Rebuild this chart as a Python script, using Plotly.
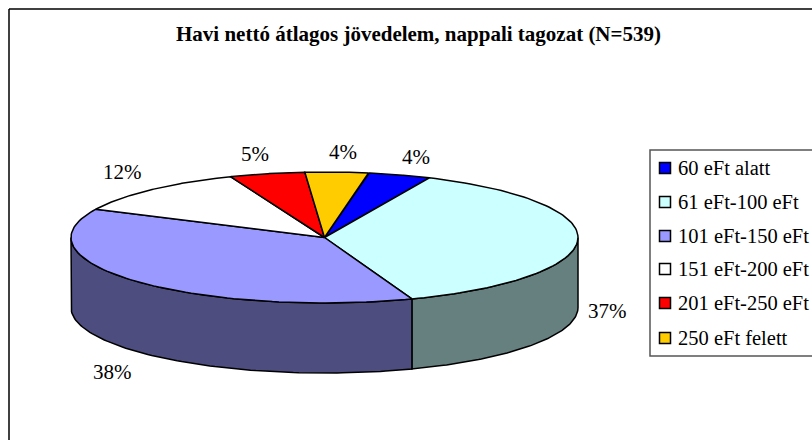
import math
import numpy as np
import plotly.graph_objects as go

# --- data ---
categories = ["60 eFt alatt", "61 eFt-100 eFt", "101 eFt-150 eFt",
              "151 eFt-200 eFt", "201 eFt-250 eFt", "250 eFt felett"]
shares = [4.0, 37.49, 37.6, 11.8, 4.8, 4.0]
title_text = "Havi nettó átlagos jövedelem, nappali tagozat (N=539)"

# --- styling ---
top_colors = ["#0000FF", "#CCFFFF", "#9999FF", "#FFFFFF", "#FF0000", "#FFCC00"]
side_colors = ["#000080", "#668080", "#4D4D80", "#808080", "#800000", "#806600"]
FONT = "Liberation Serif"

# --- layout of the tilted pie (in picture pixels) ---
W, H = 812, 440
CX, CY, RX, RY, DEPTH = 324.5, 237.5, 253.5, 65.5, 70
START_DEG = 10.0
LABEL_XY = [(416, 157), (607, 311), (112, 372), (122, 172), (255, 154), (343, 152)]
LEGEND_X0, LEGEND_Y0, LEGEND_Y1 = 650, 150, 356
LEGEND_ROWS = [168, 202, 236, 269, 303, 338]


def rim(a0, a1, dy=0.0, n=90):
    t = np.radians(np.linspace(a0, a1, n))
    return CX + RX * np.sin(t), CY - RY * np.cos(t) + dy


total = sum(shares)
edges = [START_DEG]
for s in shares:
    edges.append(edges[-1] + s / total * 360)

fig = go.Figure()
LINE = dict(color="black", width=1.5)

# walls (only the front half of the rim, clockwise angles 90..270)
for name, a0, a1, col in zip(categories, edges[:-1], edges[1:], side_colors):
    lo, hi = max(a0, 90), min(a1, 270)
    if lo >= hi:
        continue
    xt, yt = rim(lo, hi)
    xb, yb = rim(hi, lo, DEPTH)
    fig.add_trace(go.Scatter(
        x=np.r_[xt, xb, xt[0]], y=np.r_[yt, yb, yt[0]], mode="lines",
        fill="toself", fillcolor=col, line=LINE, name=name,
        showlegend=False, hoverinfo="skip"))

# top faces
for name, a0, a1, col in zip(categories, edges[:-1], edges[1:], top_colors):
    xa, ya = rim(a0, a1)
    fig.add_trace(go.Scatter(
        x=np.r_[CX, xa, CX], y=np.r_[CY, ya, CY], mode="lines",
        fill="toself", fillcolor=col, line=LINE, name=name,
        showlegend=False, hoverinfo="skip"))

# legend swatches
for name, col, ry in zip(categories, top_colors, LEGEND_ROWS):
    fig.add_trace(go.Scatter(
        x=[665], y=[ry], mode="markers", name=name, showlegend=False,
        marker=dict(symbol="square", size=11, color=col,
                    line=dict(color="black", width=1.5)),
        hoverinfo="skip"))

annotations = [dict(x=418.5, y=34, text=f"<b>{title_text}</b>", showarrow=False,
                    xanchor="center", yanchor="middle",
                    font=dict(family=FONT, size=21, color="black"))]
for s, (lx, ly) in zip(shares, LABEL_XY):
    annotations.append(dict(x=lx, y=ly, text=f"{round(s)}%", showarrow=False,
                            xanchor="center", yanchor="middle",
                            font=dict(family=FONT, size=21, color="black")))
for name, ry in zip(categories, LEGEND_ROWS):
    annotations.append(dict(x=676, y=ry, text=name, showarrow=False,
                            xanchor="left", yanchor="middle",
                            font=dict(family=FONT, size=20.5, color="black")))

shapes = [
    dict(type="line", x0=9, y0=9, x1=W, y1=9, line=dict(color="black", width=1.5)),
    dict(type="line", x0=9, y0=9, x1=9, y1=H, line=dict(color="black", width=1.5)),
    dict(type="rect", x0=LEGEND_X0, y0=LEGEND_Y0, x1=W + 20, y1=LEGEND_Y1,
         line=dict(color="#555555", width=1.5), fillcolor="white", layer="below"),
]

fig.update_layout(
    width=W, height=H, autosize=False,
    margin=dict(l=0, r=0, t=0, b=0),
    paper_bgcolor="white", plot_bgcolor="white",
    showlegend=False,
    xaxis=dict(range=[0, W], visible=False, fixedrange=True),
    yaxis=dict(range=[H, 0], visible=False, fixedrange=True),
    annotations=annotations, shapes=shapes,
)
fig.write_html(
    "out.html",
    config={"displayModeBar": False},
    post_script="document.body.style.margin='0';"
                "document.documentElement.style.overflow='hidden';",
)
